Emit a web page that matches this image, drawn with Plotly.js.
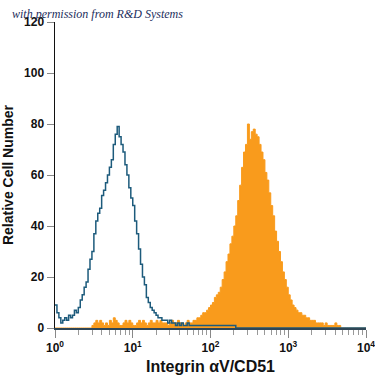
<!DOCTYPE html>
<html><head><meta charset="utf-8">
<script src="https://cdn.plot.ly/plotly-3.0.1.min.js"></script>
<style>html,body{margin:0;padding:0;background:#fff}#chart{width:375px;height:375px}</style>
</head><body><div id="chart"></div>
<script>
// channel positions as log10 of fluorescence intensity
const logChannel = [
0.000,0.025,0.050,0.075,0.100,0.125,0.150,0.175,0.200,0.225,0.250,0.275,0.300,0.325,0.350,0.375,0.400,0.425,0.450,0.475,
0.500,0.525,0.550,0.575,0.600,0.625,0.650,0.675,0.700,0.725,0.750,0.775,0.800,0.825,0.850,0.875,0.900,0.925,0.950,0.975,
1.000,1.025,1.050,1.075,1.100,1.125,1.150,1.175,1.200,1.225,1.250,1.275,1.300,1.325,1.350,1.375,1.400,1.425,1.450,1.475,
1.500,1.525,1.550,1.575,1.600,1.625,1.650,1.675,1.700,1.725,1.750,1.775,1.800,1.825,1.850,1.875,1.900,1.925,1.950,1.975,
2.000,2.025,2.050,2.075,2.100,2.125,2.150,2.175,2.200,2.225,2.250,2.275,2.300,2.325,2.350,2.375,2.400,2.425,2.450,2.475,
2.500,2.525,2.550,2.575,2.600,2.625,2.650,2.675,2.700,2.725,2.750,2.775,2.800,2.825,2.850,2.875,2.900,2.925,2.950,2.975,
3.000,3.025,3.050,3.075,3.100,3.125,3.150,3.175,3.200,3.225,3.250,3.275,3.300,3.325,3.350,3.375,3.400,3.425,3.450,3.475,
3.500,3.525,3.550,3.575,3.600,3.625,3.650,3.675,3.700,3.725,3.750,3.775,3.800,3.825,3.850,3.875,3.900,3.925,3.950,3.975,
4.000];

// isotype control (blue outline)
const controlCounts = [
9,6,4,2,3,4,3,5,4,5,7,6,8,11,13,16,18,23,27,30,
37,42,45,47,52,54,57,60,63,66,72,76,79,75,72,69,64,60,55,51,
48,42,37,31,25,20,17,12,10,8,7,6,5,4,4,3,3,3,2,3,
2,2,1,2,1,2,1,1,2,1,1,1,1,1,1,1,1,1,1,1,
1,1,1,1,1,1,1,1,1,1,1,1,1,0,0,0,0,0,0,0,
0,0,0,0,0,0,0,0,0,0,0,0,0,0,0,0,0,0,0,0,
0,0,0,0,0,0,0,0,0,0,0,0,0,0,0,0,0,0,0,0,
0,0,0,0,0,0,0,0,0,0,0,0,0,0,0,0,0,0,0,0,
0];

// anti-Integrin alphaV/CD51 stained (orange filled)
const stainedCounts = [
0,0,0,0,0,0,0,0,0,0,0,0,0,0,0,0,0,0,0,1,
2,3,2,3,2,1,2,1,3,2,4,3,2,1,1,2,3,2,3,2,
1,1,2,3,2,3,2,1,2,3,2,2,3,2,3,2,2,2,1,2,
3,2,2,3,2,2,1,2,3,2,2,3,3,4,4,5,6,6,7,8,
9,10,12,13,14,16,19,22,26,29,33,36,40,44,50,56,63,69,72,80,
74,77,78,76,75,72,69,66,61,58,53,48,44,38,34,30,26,22,19,16,
13,11,9,8,7,6,6,5,5,4,4,3,3,3,2,2,2,2,1,2,
1,1,1,1,2,1,1,0,0,0,0,0,0,0,0,0,0,0,0,0,
0];

const xTickVals = [1, 10, 100, 1000, 10000];
const xTickText = ['10<sup>0</sup>','10<sup>1</sup>','10<sup>2</sup>','10<sup>3</sup>','10<sup>4</sup>'];
const xMinorVals = [2,3,4,5,6,7,8,9,20,30,40,50,60,70,80,90,200,300,400,500,600,700,800,900,2000,3000,4000,5000,6000,7000,8000,9000];

const xIntensity = logChannel.map(v => Math.pow(10, v));

const font = 'Liberation Sans Narrow, Arial Narrow, Liberation Sans, sans-serif';

const traces = [
  {
    x: xIntensity, y: stainedCounts, type: 'scatter', mode: 'lines',
    line: {shape: 'hv', color: '#f99b1c', width: 1},
    fill: 'tozeroy', fillcolor: '#f99b1c', hoverinfo: 'skip', showlegend: false
  },
  {
    x: xIntensity, y: controlCounts, type: 'scatter', mode: 'lines',
    line: {shape: 'hv', color: '#1d5b7c', width: 1.5},
    hoverinfo: 'skip', showlegend: false
  }
];

const layout = {
  width: 375, height: 375,
  margin: {l: 55, r: 9, t: 22, b: 47},
  paper_bgcolor: '#fff', plot_bgcolor: '#fff',
  showlegend: false,
  xaxis: {
    type: 'log', range: [0, 4],
    tickvals: xTickVals, ticktext: xTickText,
    ticklabeloverflow: 'allow',
    ticks: 'outside', ticklen: 8, tickcolor: '#888', tickwidth: 1,
    minor: {tickvals: xMinorVals, ticks: 'outside', ticklen: 5, tickcolor: '#999', tickwidth: 1},
    showgrid: false, zeroline: false,
    showline: true, linecolor: '#2f4656', linewidth: 2,
    tickfont: {family: font, size: 12, color: '#111', weight: 'bold'},
    title: {text: 'Integrin αV/CD51', font: {family: font, size: 16, color: '#111', weight: 'bold'}, standoff: 8}
  },
  yaxis: {
    range: [0, 120], tickvals: [0,20,40,60,80,100,120],
    ticks: 'outside', ticklen: 7, tickcolor: '#888', tickwidth: 1,
    showgrid: false, zeroline: false,
    showline: true, linecolor: '#111', linewidth: 1.5,
    tickfont: {family: font, size: 12, color: '#111', weight: 'bold'},
    title: {text: 'Relative Cell Number', font: {family: font, size: 14, color: '#111', weight: 'bold'}, standoff: 10}
  },
  annotations: [{
    text: '<i>with permission from R&amp;D Systems</i>',
    xref: 'paper', yref: 'paper', x: -0.145, y: 1.025,
    xanchor: 'left', yanchor: 'middle', showarrow: false,
    font: {family: 'Liberation Serif, DejaVu Serif, serif', size: 12, color: '#1c2d5c'}
  }]
};

Plotly.newPlot('chart', traces, layout, {staticPlot: true, displayModeBar: false});
</script>
</body></html>
